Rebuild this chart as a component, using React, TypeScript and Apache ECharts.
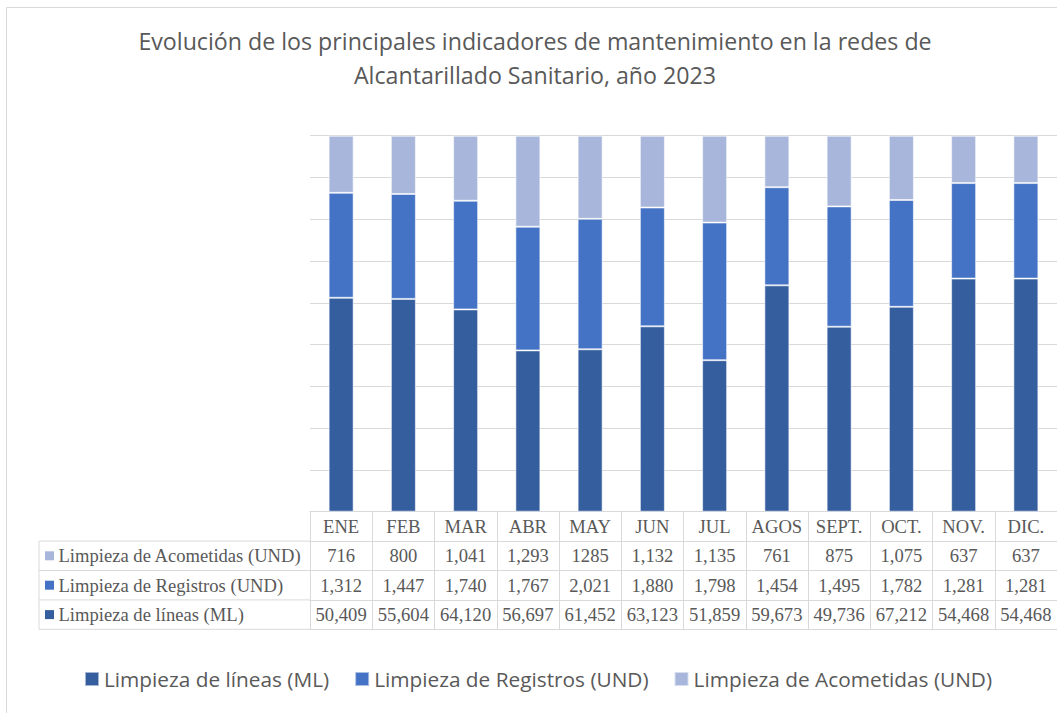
import React, { useEffect, useRef } from "react";
import * as echarts from "echarts";

const categories = ["ENE", "FEB", "MAR", "ABR", "MAY", "JUN", "JUL", "AGOS", "SEPT.", "OCT.", "NOV.", "DIC."];

// Bar shares (% of the 100% stacked column)
const shareLineas = [56.9, 56.6, 53.8, 42.9, 43.2, 49.3, 40.3, 60.2, 49.2, 54.5, 62.0, 62.0];
const shareRegistros = [27.9, 27.9, 28.9, 32.9, 34.7, 31.6, 36.6, 26.1, 32.0, 28.4, 25.4, 25.4];
const shareAcometidas = [15.2, 15.5, 17.3, 24.2, 22.1, 19.1, 23.1, 13.7, 18.8, 17.1, 12.6, 12.6];

// Data table values, as printed
const tableAcometidas = ["716", "800", "1,041", "1,293", "1285", "1,132", "1,135", "761", "875", "1,075", "637", "637"];
const tableRegistros = ["1,312", "1,447", "1,740", "1,767", "2,021", "1,880", "1,798", "1,454", "1,495", "1,782", "1,281", "1,281"];
const tableLineas = ["50,409", "55,604", "64,120", "56,697", "61,452", "63,123", "51,859", "59,673", "49,736", "67,212", "54,468", "54,468"];

const seriesNames = ["Limpieza de líneas (ML)", "Limpieza de Registros (UND)", "Limpieza de Acometidas (UND)"];
const colors = ["#355E9F", "#4472C4", "#A8B6DB"];

const titleText = "Evolución de los principales indicadores de mantenimiento en la redes de\nAlcantarillado Sanitario, año 2023";

export default function App() {
  const ref = useRef<HTMLDivElement>(null);

  useEffect(() => {
    if (!ref.current) return;
    const chart = echarts.init(ref.current, undefined, { renderer: "svg" });

    const gridLeft = 310;
    const gridTop = 135.7;
    const gridH = 376;
    const gridW = 752;
    const rowH = 29.4;
    const tableTop = gridTop + gridH;
    const border = "#D9D9D9";
    const textColor = "#595959";
    const serif = "'Liberation Serif', 'Times New Roman', serif";
    const sans = "'Open Sans', 'Noto Sans', sans-serif";
    const tableFont = 18.6;

    const rows = [tableAcometidas, tableRegistros, tableLineas];
    const rowColors = [colors[2], colors[1], colors[0]];
    const rowNames = [seriesNames[2], seriesNames[1], seriesNames[0]];

    const mkAxis = (i: number, labels: string[] | null, showLabel: boolean, showTick: boolean) => ({
      type: "category",
      gridIndex: 0,
      position: "bottom",
      offset: i * rowH,
      data: categories,
      boundaryGap: true,
      axisLine: { show: true, lineStyle: { color: border, width: 1 } },
      axisTick: { show: showTick, interval: 0, length: rowH, lineStyle: { color: border, width: 1 } },
      axisLabel: {
        show: showLabel,
        interval: 0,
        margin: rowH / 2,
        verticalAlign: "middle",
        fontFamily: serif,
        fontSize: tableFont,
        color: textColor,
        formatter: (v: string, idx: number) => (labels ? labels[idx] : v),
      },
      splitLine: { show: false },
      axisPointer: { show: false },
    });

    const xAxes = [
      mkAxis(0, null, true, true),
      mkAxis(1, rows[0], true, true),
      mkAxis(2, rows[1], true, true),
      mkAxis(3, rows[2], true, true),
      mkAxis(4, null, false, false),
    ];

    const graphics: any[] = [
      {
        type: "rect",
        shape: { x: 6.5, y: 7.5, width: 1200, height: 800 },
        style: { fill: "none", stroke: border, lineWidth: 1 },
        silent: true,
      },
      {
        type: "text",
        x: 535,
        y: 58,
        style: {
          text: titleText,
          align: "center",
          verticalAlign: "middle",
          fill: textColor,
          fontFamily: sans,
          fontSize: 23.2,
          lineHeight: 34,
        },
      },
    ];

    const labelLeft = 39;
    graphics.push({
      type: "line",
      shape: { x1: labelLeft, y1: tableTop + rowH, x2: labelLeft, y2: tableTop + 4 * rowH },
      style: { stroke: border, lineWidth: 1 },
    });
    for (let r = 1; r <= 4; r++) {
      graphics.push({
        type: "line",
        shape: { x1: labelLeft, y1: tableTop + r * rowH, x2: gridLeft, y2: tableTop + r * rowH },
        style: { stroke: border, lineWidth: 1 },
      });
    }
    for (let r = 0; r < 3; r++) {
      const cy = tableTop + (r + 1.5) * rowH;
      graphics.push({
        type: "rect",
        shape: { x: 45, y: cy - 4.5, width: 9, height: 9 },
        style: { fill: rowColors[r] },
      });
      graphics.push({
        type: "text",
        x: 58.5,
        y: cy,
        style: {
          text: rowNames[r],
          align: "left",
          verticalAlign: "middle",
          fill: textColor,
          fontFamily: serif,
          fontSize: tableFont,
        },
      });
    }

    const shares = [shareLineas, shareRegistros, shareAcometidas];

    chart.setOption({
      animation: false,
      backgroundColor: "#ffffff",
      grid: { left: gridLeft, top: gridTop, width: gridW, height: gridH, containLabel: false },
      xAxis: xAxes,
      yAxis: {
        type: "value",
        min: 0,
        max: 100,
        interval: 100 / 9,
        axisLabel: { show: false },
        axisLine: { show: false },
        axisTick: { show: false },
        splitLine: { show: true, lineStyle: { color: border, width: 1 } },
      },
      legend: {
        left: 79,
        top: 663,
        itemWidth: 14,
        itemHeight: 14,
        itemGap: 25,
        icon: "rect",
        data: seriesNames,
        textStyle: { fontFamily: sans, fontSize: 20.8, color: textColor, lineHeight: 22 },
      },
      series: seriesNames.map((name, i) => ({
        name,
        type: "bar",
        stack: "total",
        xAxisIndex: 0,
        barWidth: 25,
        data: shares[i],
        itemStyle: { color: colors[i], borderColor: "rgba(255,255,255,0.55)", borderWidth: 1 },
      })),
      graphic: graphics,
    });

    return () => chart.dispose();
  }, []);

  return (
    <div
      ref={ref}
      style={{ position: "fixed", left: 0, top: 0, width: 1057, height: 713, background: "#fff" }}
    />
  );
}
